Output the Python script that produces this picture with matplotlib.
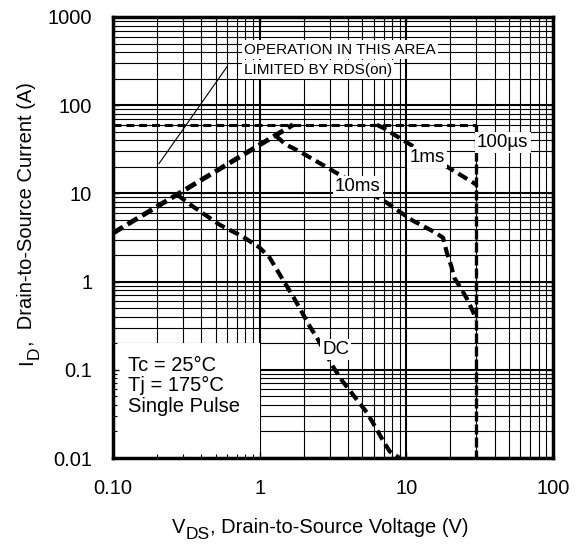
import numpy as np
import matplotlib
matplotlib.use("Agg")
import matplotlib.pyplot as plt
from matplotlib.patches import Rectangle

plt.rcParams['font.family'] = ['Liberation Sans', 'DejaVu Sans']

# ---- data ----
rds_v = [0.1, 1.69]
rds_i = [3.55, 60.0]

limit_v = [0.1, 30.0]          # 100us horizontal limit
limit_i = [60.0, 60.0]

us100_v = [30.0, 30.0]         # 100us vertical drop
us100_i = [60.0, 0.01]

ms1_v = [6.3, 7.0, 10.3, 19.8, 30.0]
ms1_i = [60.0, 55.0, 37.0, 19.2, 12.6]

ms10_v = [1.29, 1.5, 1.88, 3.5, 7.3, 9.0, 11.1, 15.3, 17.8, 18.9, 20.3, 21.2, 23.9, 26.1, 28.5, 30.0]
ms10_i = [45.0, 36.0, 29.8, 16.3, 7.9, 6.2, 4.9, 3.7, 3.15, 2.13, 1.48, 1.11, 0.81, 0.625, 0.457, 0.37]

dc_v = [0.273, 0.351, 0.535, 0.768, 1.0, 1.17, 1.44, 1.69, 2.2, 2.5, 3.16, 3.68, 4.46, 5.37, 6.3, 6.9, 7.7, 9.0]
dc_i = [9.7, 7.1, 4.4, 3.23, 2.43, 1.87, 1.05, 0.68, 0.31, 0.22, 0.109, 0.074, 0.049, 0.033, 0.021, 0.016, 0.0119, 0.0100]

x_ticks = [0.1, 1, 10, 100]
x_ticklabels = ['0.10', '1', '10', '100']
y_ticks = [0.01, 0.1, 1, 10, 100, 1000]
y_ticklabels = ['0.01', '0.1', '1', '10', '100', '1000']

# ---- figure ----
fig = plt.figure(figsize=(5.87, 5.44), dpi=100)
ax = fig.add_axes([0.1925, 0.158, 0.7495, 0.8108])
ax.set_xscale('log')
ax.set_yscale('log')
ax.set_xlim(0.1, 100)
ax.set_ylim(0.01, 1000)

# manual grid (so the note box can blank it while ticks remain)
for d in [0.1, 1, 10]:
    for m in range(1, 10):
        v = d * m
        ax.axvline(v, color='black', lw=1.5 if m == 1 else 0.8, zorder=0.5)
for d in [0.01, 0.1, 1, 10, 100]:
    for m in range(1, 10):
        v = d * m
        ax.axhline(v, color='black', lw=1.5 if m == 1 else 0.8, zorder=0.5)

# blank area for the note
ax.add_patch(Rectangle((0.1, 0.01), 0.9, 0.19, facecolor='white', edgecolor='none', zorder=1))

# curves
ax.plot(limit_v, limit_i, color='black', lw=2.2, linestyle=(0, (2.6, 1.6)), dash_capstyle='butt', zorder=2)
ax.plot(rds_v, rds_i, color='black', lw=3.5, linestyle=(0, (2.4, 1.1)), dash_capstyle='butt', zorder=2)
ax.plot(us100_v, us100_i, color='black', lw=2.4, linestyle=(0, (3.0, 0.9)), dash_capstyle='butt', zorder=2)
ax.plot(ms1_v, ms1_i, color='black', lw=3.0, linestyle=(0, (2.5, 1.3)), dash_capstyle='butt', zorder=2)
ax.plot(ms10_v, ms10_i, color='black', lw=3.0, linestyle=(0, (2.5, 1.3)), dash_capstyle='butt', zorder=2)
ax.plot(dc_v, dc_i, color='black', lw=3.0, linestyle=(0, (2.5, 1.3)), dash_capstyle='butt', zorder=2)

box = dict(facecolor='white', edgecolor='none', pad=1.5)
ax.text(45.5, 37.7, '100µs', fontsize=13.5, ha='center', va='center', bbox=box, zorder=4)
ax.text(13.8, 25.5, '1ms', fontsize=13.5, ha='center', va='center', bbox=box, zorder=4)
ax.text(4.68, 11.9, '10ms', fontsize=13.5, ha='center', va='center', bbox=box, zorder=4)
ax.text(3.31, 0.17, 'DC', fontsize=13.5, ha='center', va='center', bbox=box, zorder=4)

ax.text(0.78, 427, 'OPERATION IN THIS AREA', fontsize=11, ha='left', va='center', bbox=box, zorder=4)
ax.text(0.78, 253, 'LIMITED BY RDS(on)', fontsize=11, ha='left', va='center', bbox=box, zorder=4)
ax.plot([0.206, 0.6], [21.8, 274], color='black', lw=0.8, zorder=3)

ax.text(0.126, 0.145, 'Tc = 25°C\nTj = 175°C\nSingle Pulse', fontsize=14.5, ha='left', va='top',
        linespacing=1.12, zorder=4)

# axes styling
for s in ax.spines.values():
    s.set_linewidth(2.5)
    s.set_zorder(5)
ax.set_xticks(x_ticks)
ax.set_xticklabels(x_ticklabels)
ax.set_yticks(y_ticks)
ax.set_yticklabels(y_ticklabels)
ax.tick_params(which='major', direction='in', length=4, width=1.0, labelsize=14.5, pad=15,
               top=True, right=True)
ax.tick_params(which='minor', direction='in', length=3, width=0.8, top=True, right=True)
ax.tick_params(axis='x', which='minor', labelbottom=False)
ax.tick_params(axis='y', which='minor', labelleft=False)

# x-axis title with a large subscript
LS = 14.5
SS = 12.5
tx1 = fig.text(172 / 587, 1 - 533 / 544, 'V', fontsize=LS, ha='left', va='baseline')
tx2 = ax.annotate('DS', xy=(1, 0), xycoords=tx1, xytext=(0.3, -3.5), textcoords='offset points',
                  fontsize=SS, ha='left', va='bottom', annotation_clip=False)
tx3 = ax.annotate(', Drain-to-Source Voltage (V)', xy=(1, 0), xycoords=(tx2, tx1),
                  fontsize=LS, ha='left', va='bottom', annotation_clip=False)

# y-axis title with a large subscript (rotated)
ty1 = fig.text(27 / 587, 1 - 365 / 544, 'I', fontsize=LS, rotation=90, ha='center', va='bottom')
ty2 = ax.annotate('D', xy=(1, 1), xycoords=ty1, xytext=(3.5, 0.3), textcoords='offset points',
                  fontsize=SS, rotation=90, ha='right', va='bottom', annotation_clip=False)
ty3 = ax.annotate(',  Drain-to-Source Current (A)', xy=(1, 1), xycoords=(ty1, ty2),
                  fontsize=LS, rotation=90, ha='right', va='bottom', annotation_clip=False)

fig.savefig('out.png', dpi=100)
